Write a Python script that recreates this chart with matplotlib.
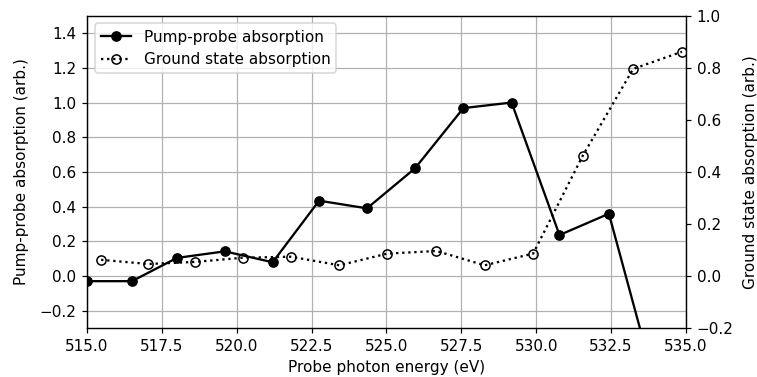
import numpy as np
import matplotlib
matplotlib.use('Agg')
import matplotlib.pyplot as plt

# probe energies (eV) and signals
pump_energy = [515.0, 516.5, 518.0, 519.6, 521.2, 522.75, 524.35, 525.95,
               527.57, 529.18, 530.78, 532.43, 534.03]
pump_signal = [-0.03, -0.03, 0.104, 0.142, 0.079, 0.434, 0.39, 0.62,
               0.968, 1.0, 0.236, 0.359, -0.66]

ground_energy = [515.47, 517.05, 518.6, 520.2, 521.8, 523.43, 525.03, 526.67,
                 528.28, 529.9, 531.56, 533.24, 534.87]
ground_signal = [0.062, 0.046, 0.054, 0.07, 0.074, 0.041, 0.086, 0.096,
                 0.041, 0.086, 0.463, 0.796, 0.862]

DPI = 110
fig, ax = plt.subplots(figsize=(757 / DPI, 377 / DPI), dpi=DPI)
fig.subplots_adjust(left=0.115, right=0.906, top=0.958, bottom=0.130)

ln1, = ax.plot(pump_energy, pump_signal, 'k-o', label='Pump-probe absorption')
ax.set_xlim(515, 535)
ax.set_ylim(-0.3, 1.5)
ax.set_yticks(np.arange(-0.2, 1.41, 0.2))
ax.set_xlabel('Probe photon energy (eV)')
ax.set_ylabel('Pump-probe absorption (arb.)', labelpad=7)
ax.grid(True)

ax2 = ax.twinx()
ln2, = ax2.plot(ground_energy, ground_signal, 'k:o', markerfacecolor='none',
                label='Ground state absorption')
ax2.set_ylim(-0.2, 1.0)
ax2.set_ylabel('Ground state absorption (arb.)', labelpad=6)

ax.legend(handles=[ln1, ln2], loc='upper left')

fig.savefig('out.png', dpi=DPI)
